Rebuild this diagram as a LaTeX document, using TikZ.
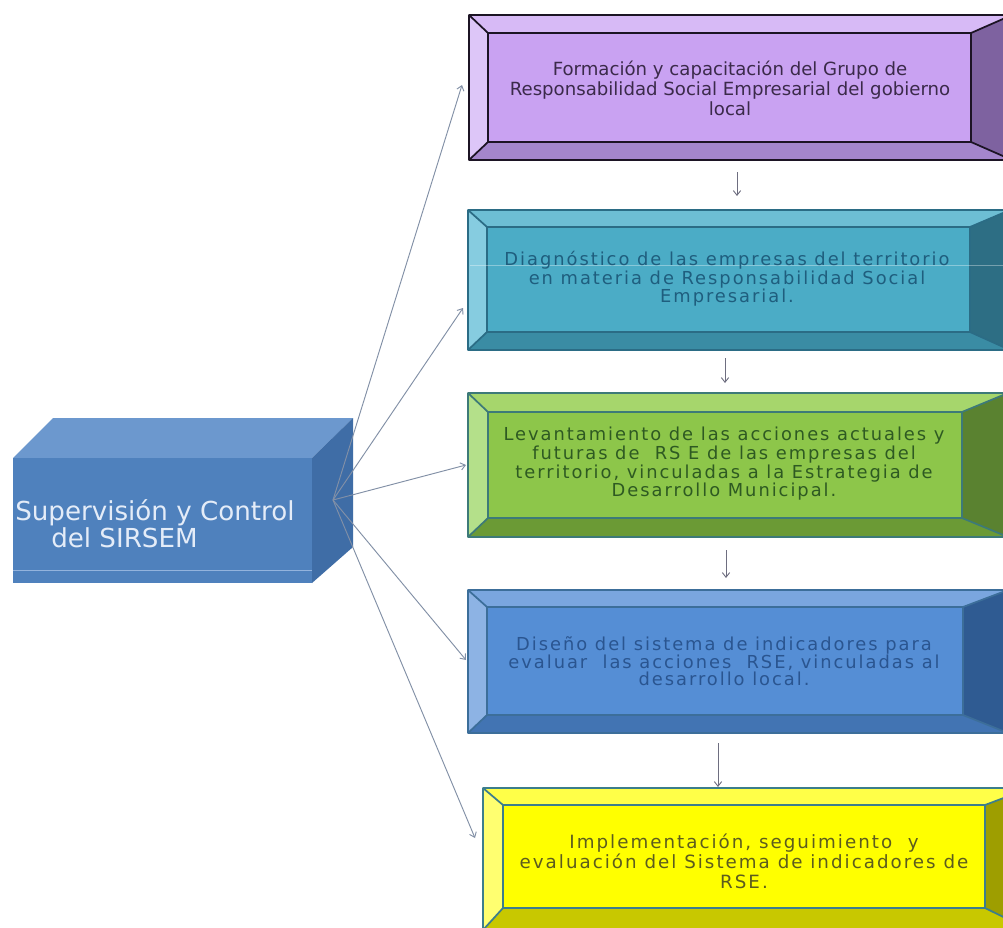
\documentclass[tikz,border=0pt]{standalone}
\usepackage{fontspec}
\setmainfont{DejaVu Sans}
\newfontfamily\spacedfont[LetterSpace=11]{DejaVu Sans}
\usetikzlibrary{arrows.meta,fit}

% purple
\definecolor{pface}{HTML}{C9A2F2}\definecolor{ptop}{HTML}{D7BAF6}\definecolor{pleft}{HTML}{DDC6F8}
\definecolor{pbot}{HTML}{A486CC}\definecolor{pright}{HTML}{7E62A0}\definecolor{pline}{HTML}{1C1424}
\definecolor{ptext}{HTML}{3B2A4A}
% teal
\definecolor{tface}{HTML}{4BACC6}\definecolor{ttop}{HTML}{6DBED4}\definecolor{tleft}{HTML}{86CCE0}
\definecolor{tbot}{HTML}{3A8CA4}\definecolor{tright}{HTML}{2D6E84}\definecolor{tline}{HTML}{2B6C85}
\definecolor{ttext}{HTML}{1F5E7E}
% green
\definecolor{gface}{HTML}{8DC64A}\definecolor{gtop}{HTML}{A6D66C}\definecolor{gleft}{HTML}{B4E08A}
\definecolor{gbot}{HTML}{6B9A35}\definecolor{gright}{HTML}{5A8230}\definecolor{gline}{HTML}{3D7A78}
\definecolor{gtext}{HTML}{2E5A22}
% blue
\definecolor{bface}{HTML}{558ED5}\definecolor{btop}{HTML}{7AA6DF}\definecolor{bleft}{HTML}{8DB3E4}
\definecolor{bbot}{HTML}{4274B3}\definecolor{bright}{HTML}{2F5B92}\definecolor{bline}{HTML}{3C6E9A}
\definecolor{btext}{HTML}{2A5590}
% yellow
\definecolor{yface}{HTML}{FFFF00}\definecolor{ytop}{HTML}{FFFF48}\definecolor{yleft}{HTML}{FFFF70}
\definecolor{ybot}{HTML}{C8C800}\definecolor{yright}{HTML}{9E9E00}\definecolor{yline}{HTML}{3C7E8C}
\definecolor{ytext}{HTML}{5C5C1E}
% cube
\definecolor{cfront}{HTML}{4F81BD}\definecolor{ctop}{HTML}{6C98CE}\definecolor{cright}{HTML}{3F6DA6}
\definecolor{ctext}{HTML}{E4ECF8}\definecolor{cstreak}{HTML}{93B3DD}
% connectors
\definecolor{fancol}{HTML}{8290A6}\definecolor{downcol}{HTML}{6E6E80}

\newcommand\bevelbox[2]{%
  \fill[#2face] (#1i.north west) rectangle (#1i.south east);
  \fill[#2top] (#1o.north west) -- (#1o.north east) -- (#1i.north east) -- (#1i.north west) -- cycle;
  \fill[#2right] (#1o.north east) -- (#1o.south east) -- (#1i.south east) -- (#1i.north east) -- cycle;
  \fill[#2bot] (#1o.south east) -- (#1o.south west) -- (#1i.south west) -- (#1i.south east) -- cycle;
  \fill[#2left] (#1o.south west) -- (#1o.north west) -- (#1i.north west) -- (#1i.south west) -- cycle;
  \draw[#2line, line width=1.3pt, line join=round]
    (#1o.north west) rectangle (#1o.south east)
    (#1i.north west) rectangle (#1i.south east)
    (#1o.north west) -- (#1i.north west) (#1o.north east) -- (#1i.north east)
    (#1o.south east) -- (#1i.south east) (#1o.south west) -- (#1i.south west);
}

\begin{document}
\begin{tikzpicture}[x=0.75pt,y=-0.75pt,
  frame/.style={inner sep=0pt, outer sep=0pt, draw=none},
  fan/.style={draw=fancol, line width=0.7pt, -{Straight Barb[length=3.5pt,width=5.5pt]}},
  down/.style={draw=downcol, line width=0.7pt, -{Straight Barb[length=3.5pt,width=5.5pt]}},
  lbl/.style={inner sep=0pt, align=center}]
\useasboundingbox (0,0) rectangle (1003,928);
\clip (0,0) rectangle (1003,928);
\fill[white] (0,0) rectangle (1003,928);

% ---------- boxes: outer and inner frames ----------
\node[frame, fit={(469,15) (1012,160)}] (b1o) {};
\node[frame, fit={(488,33) (971,142)}] (b1i) {};
\node[frame, fit={(468,210) (1010,350)}] (b2o) {};
\node[frame, fit={(487,227) (970,332)}] (b2i) {};
\node[frame, fit={(468,393) (1008,537)}] (b3o) {};
\node[frame, fit={(488,412) (962,518)}] (b3i) {};
\node[frame, fit={(468,590) (1008,733)}] (b4o) {};
\node[frame, fit={(487,607) (963,715)}] (b4i) {};
\node[frame, fit={(483,788) (1030,930)}] (b5o) {};
\node[frame, fit={(503,805) (985,908)}] (b5i) {};

\bevelbox{b1}{p}
\bevelbox{b2}{t}
\bevelbox{b3}{g}
\bevelbox{b4}{b}
\bevelbox{b5}{y}

% faint scan streak across the teal box
\draw[white, opacity=0.35, line width=0.6pt] (470,265) -- (1003,265);

% ---------- box texts ----------
\node[lbl, text=ptext, font={\fontsize{13.6}{15}\selectfont}] (t1) at (730,88)
  {Formación y capacitación del Grupo de\\Responsabilidad Social Empresarial del gobierno\\local};
\node[lbl, text=ttext, font={\spacedfont\fontsize{13.4}{11.25}\selectfont}] (t2) at (727,279)
  {Diagnóstico de las empresas del territorio\\en materia de Responsabilidad Social\\Empresarial.};
\node[lbl, text=gtext, font={\spacedfont\fontsize{13.4}{12.8}\selectfont}] (t3) at (724,464)
  {Levantamiento de las acciones actuales y\\futuras de\ \ RS E de las empresas del\\territorio, vinculadas a la Estrategia de\\Desarrollo Municipal.};
\node[lbl, text=btext, font={\spacedfont\fontsize{13.4}{11.25}\selectfont}] (t4) at (724,661)
  {Diseño del sistema de indicadores para\\evaluar\ \ las acciones\ \ RSE, vinculadas al\\desarrollo local.};
\node[lbl, text=ytext, font={\spacedfont\fontsize{13.7}{15}\selectfont}] (t5) at (744,861)
  {Implementación, seguimiento\ \ y\\evaluación del Sistema de indicadores de\\RSE.};

% ---------- cube ----------
\node[frame, fit={(13,458) (312,583)}] (cube) {};
\fill[ctop] (13,458) -- (53,418) -- (353,418) -- (312,458) -- cycle;
\fill[cright] (312,458) -- (353,418) -- (353,547) -- (312,583) -- cycle;
\fill[cfront] (cube.north west) rectangle (cube.south east);
\draw[cstreak, line width=0.7pt] (13,570) -- (312,570);
\node[inner sep=0pt, anchor=west, align=left, text=ctext,
      font={\fontsize{19.6}{20.3}\selectfont}] (ctxt) at (15,524)
  {Supervisión y Control\\\hspace*{27pt}del SIRSEM};

% ---------- fan connectors ----------
\coordinate (hub) at (333,500);
\coordinate (e1) at (462,85);
\coordinate (e2) at (463,308);
\coordinate (e3) at (466,465);
\coordinate (e4) at (466,660);
\coordinate (e5) at (475,838);
\foreach \e in {e1,e2,e3,e4,e5} \draw[fan] (hub) -- (\e);

% ---------- down arrows ----------
\coordinate (d1s) at (737,172); \coordinate (d1e) at (737,196);
\coordinate (d2s) at (725,358); \coordinate (d2e) at (725,383);
\coordinate (d3s) at (726,550); \coordinate (d3e) at (726,578);
\coordinate (d4s) at (718,743); \coordinate (d4e) at (718,787);
\draw[down] (d1s) -- (d1e);
\draw[down] (d2s) -- (d2e);
\draw[down] (d3s) -- (d3e);
\draw[down] (d4s) -- (d4e);
\end{tikzpicture}
\end{document}
